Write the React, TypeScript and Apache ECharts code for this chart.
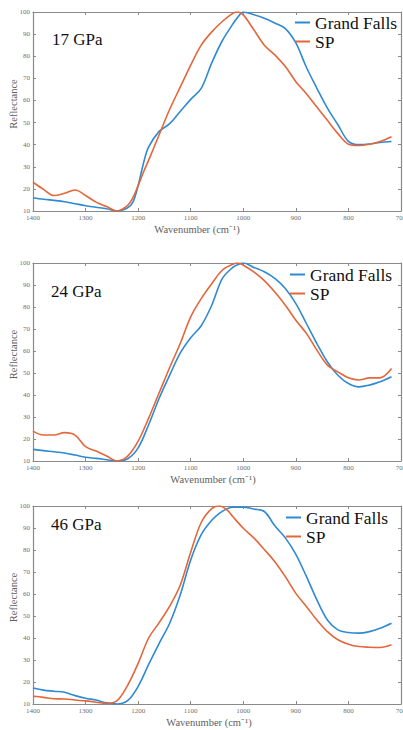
import React, { useEffect, useRef } from "react";
import * as echarts from "echarts";

const pressures = ["17 GPa", "24 GPa", "46 GPa"];
const seriesNames = ["Grand Falls", "SP"];

const wn17 = [1400, 1380, 1360, 1340, 1320, 1300, 1280, 1260, 1240, 1220, 1210, 1200, 1190, 1180, 1160, 1140, 1120, 1100, 1080, 1060, 1040, 1020, 1010, 1000, 980, 960, 940, 920, 900, 880, 860, 840, 820, 800, 780, 760, 740, 718];
const gf17 = [16, 15.3, 14.8, 14.2, 13.3, 12.4, 11.7, 11, 10, 11.5, 14, 21.5, 31.5, 39, 46, 49.5, 55, 60.5, 65.5, 77, 87, 94.5, 97.8, 100, 98.8, 97.2, 95, 92.5, 86, 75, 65.5, 56.5, 49, 41.5, 40, 40.3, 41, 41.4];
const sp17 = [23, 19.8, 17, 18, 19.5, 17, 14, 12, 10, 12.5, 16, 21.5, 27.5, 33, 44.5, 56, 66, 76, 85, 91, 95.7, 99.4, 100, 98.7, 92, 85, 80.6, 75.3, 68.5, 63, 57, 51, 45, 40.2, 39.6, 40.2, 41.4, 43.6];

const wn24 = [1400, 1380, 1360, 1340, 1320, 1300, 1280, 1260, 1240, 1220, 1200, 1180, 1160, 1140, 1120, 1100, 1080, 1060, 1040, 1020, 1010, 1000, 980, 960, 940, 920, 900, 880, 860, 840, 820, 800, 780, 760, 740, 718];
const gf24 = [15.3, 14.7, 14.2, 13.6, 12.7, 11.7, 11.2, 10.6, 10, 11, 16, 26.5, 38.5, 49, 59, 66, 71.5, 80.8, 92.9, 98, 99.3, 100, 98, 96, 93, 88.4, 81.5, 72.5, 63.4, 55, 49, 45.2, 43.7, 44.5, 46, 48.3];
const sp24 = [23.6, 21.8, 21.8, 22.9, 21.8, 16.5, 14.5, 12.3, 10, 12.2, 19, 29.5, 41, 52.5, 63.4, 75.5, 83.8, 90.6, 96.7, 99.4, 100, 99, 96, 92, 86.8, 80.8, 74, 68, 60.4, 53.6, 50.5, 47.8, 46.8, 47.8, 47.8, 52];

const wn46 = [1400, 1380, 1360, 1340, 1320, 1300, 1280, 1260, 1240, 1220, 1200, 1180, 1160, 1140, 1120, 1100, 1080, 1060, 1045, 1030, 1020, 1000, 980, 960, 940, 920, 900, 880, 860, 840, 820, 800, 780, 760, 740, 718];
const gf46 = [17.3, 16.3, 15.8, 15.3, 13.8, 12.6, 11.8, 10.5, 10, 11.5, 18, 28, 37.6, 46.7, 59.5, 75.5, 87, 93.5, 96.8, 98.8, 99.5, 99.5, 98.6, 97.5, 91, 85.5, 78, 68, 57.3, 48.2, 43.7, 42.5, 42.2, 42.9, 44.4, 46.7];
const sp46 = [13.5, 13, 12.4, 12.3, 11.8, 11.4, 10.8, 10.2, 11.5, 18.5, 28.5, 40, 47, 54.5, 64, 79, 92.5, 98.8, 100, 98, 95.2, 89.9, 85.5, 80.2, 74.7, 67.9, 60.3, 54.3, 48.2, 42.9, 39.2, 37.2, 36.1, 35.8, 35.7, 36.9];

const xTicks = ["1400", "1300", "1200", "1100", "1000", "900", "800", "700"];
const yTicks = ["10", "20", "30", "40", "50", "60", "70", "80", "90", "100"];

const panels = [
  { wn: wn17, gf: gf17, sp: sp17 },
  { wn: wn24, gf: gf24, sp: sp24 },
  { wn: wn46, gf: gf46, sp: sp46 },
];

const BLUE = "#2f8ad3";
const ORANGE = "#e4663a";
const AXIS = "#8a8a8a";
const FONT = "Liberation Serif";

const gridTops = [12, 263, 506];
const gridHeights = [199, 198, 198];
const titlePos = [
  { left: 52, top: 31 },
  { left: 51, top: 283 },
  { left: 51, top: 516 },
];
const legendPos = [
  { left: 295, top: 13 },
  { left: 290, top: 265 },
  { left: 286, top: 508 },
];
const xNameShift = [40, 8, 16];

export default function App() {
  const ref = useRef<HTMLDivElement>(null);
  useEffect(() => {
    if (!ref.current) return;
    const chart = echarts.init(ref.current, undefined, { renderer: "svg" });
    const grids: any[] = [];
    const xAxes: any[] = [];
    const yAxes: any[] = [];
    const series: any[] = [];
    const titles: any[] = [];
    const legends: any[] = [];
    const xMin = Number(xTicks[xTicks.length - 1]);
    const xMax = Number(xTicks[0]);
    const yMin = Number(yTicks[0]);
    const yMax = Number(yTicks[yTicks.length - 1]);
    panels.forEach((p, i) => {
      grids.push({
        left: 33,
        right: 2,
        top: gridTops[i],
        height: gridHeights[i],
        containLabel: false,
        outerBoundsMode: "none",
      });
      const common = {
        gridIndex: i,
        type: "value",
        axisLine: { show: true, onZero: false, lineStyle: { color: AXIS, width: 1.2 } },
        axisTick: { show: true, inside: true, length: 3, lineStyle: { color: AXIS } },
        splitLine: { show: false },
      };
      xAxes.push({
        ...common,
        position: "bottom",
        min: xMin,
        max: xMax,
        interval: 100,
        inverse: true,
        axisLabel: {
          fontSize: 7,
          color: "#707070",
          fontFamily: FONT,
          margin: 3,
          formatter: (v: number) => String(v),
        },
        name: "Wavenumber (cm\u207B\u00B9)",
        nameLocation: "middle",
        nameGap: 13,
        nameMoveOverlap: false,
        nameTextStyle: {
          fontSize: 10.5,
          color: "#606060",
          fontFamily: FONT,
          padding: [0, xNameShift[i], 0, 0],
        },
      });
      xAxes.push({
        ...common,
        position: "top",
        min: xMin,
        max: xMax,
        interval: 100,
        inverse: true,
        axisLabel: { show: false },
      });
      yAxes.push({
        ...common,
        position: "left",
        min: yMin,
        max: yMax,
        interval: 10,
        axisLabel: {
          fontSize: 7,
          color: "#707070",
          fontFamily: FONT,
          margin: 3,
          formatter: (v: number) => String(v),
        },
        name: "Reflectance",
        nameLocation: "middle",
        nameGap: 14,
        nameMoveOverlap: false,
        nameTextStyle: { fontSize: 10.5, color: "#606060", fontFamily: FONT, padding: [0, 0, 0, 15] },
      });
      yAxes.push({
        ...common,
        position: "right",
        min: yMin,
        max: yMax,
        interval: 10,
        axisLabel: { show: false },
      });
      const mk = (name: string, vals: number[], color: string) => ({
        type: "line",
        name,
        xAxisIndex: i * 2,
        yAxisIndex: i * 2,
        data: p.wn.map((w, k) => [w, vals[k]]),
        smooth: 0.35,
        showSymbol: false,
        symbol: "none",
        color,
        lineStyle: { color, width: 1.6 },
        z: name === "SP" ? 3 : 2,
      });
      series.push(mk(seriesNames[0], p.gf, BLUE));
      series.push(mk(seriesNames[1], p.sp, ORANGE));
      titles.push({
        text: pressures[i],
        left: titlePos[i].left,
        top: titlePos[i].top,
        padding: 0,
        textStyle: { fontSize: 17, fontWeight: "normal", color: "#111", fontFamily: FONT },
      });
      legends.push({
        orient: "vertical",
        left: legendPos[i].left,
        top: legendPos[i].top,
        padding: 0,
        itemGap: 0,
        itemWidth: 15,
        itemHeight: 2,
        selectedMode: false,
        data: seriesNames.map((n) => ({ name: n, icon: "rect" })),
        textStyle: { fontSize: 17.5, color: "#111", fontFamily: FONT, lineHeight: 19 },
      });
    });
    chart.setOption({
      animation: false,
      backgroundColor: "#ffffff",
      textStyle: { fontFamily: FONT },
      title: titles,
      legend: legends,
      grid: grids,
      xAxis: xAxes,
      yAxis: yAxes,
      series,
    });
    return () => chart.dispose();
  }, []);
  return <div ref={ref} style={{ position: "absolute", left: 0, top: 0, width: 403, height: 730 }} />;
}
